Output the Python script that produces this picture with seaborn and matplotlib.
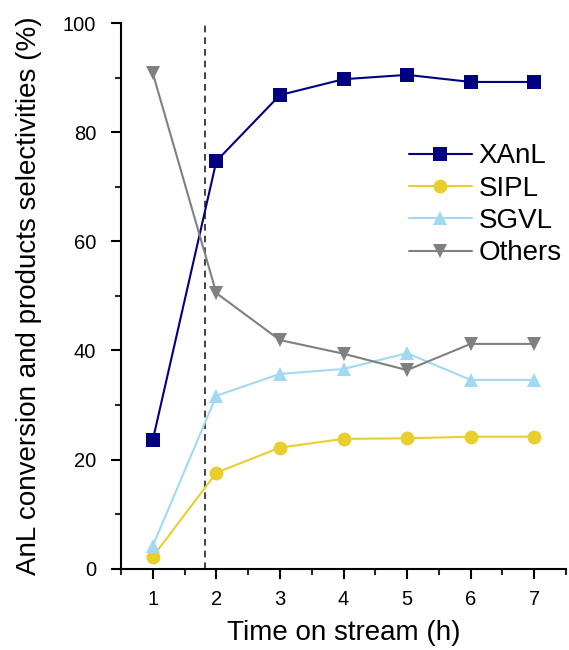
import numpy as np
import pandas as pd
import matplotlib
matplotlib.use("Agg")
import matplotlib.pyplot as plt
from matplotlib.ticker import MultipleLocator
import seaborn as sns

# Time on stream (h)
time_h = [1, 2, 3, 4, 5, 6, 7]

# Conversion and selectivities (%)
xanl = [23.6, 74.7, 86.8, 89.7, 90.5, 89.2, 89.2]
sipl = [2.2, 17.6, 22.2, 23.8, 23.9, 24.2, 24.2]
sgvl = [4.2, 31.7, 35.7, 36.6, 39.5, 34.6, 34.6]
others = [90.8, 50.5, 41.9, 39.4, 36.4, 41.2, 41.2]

series_names = ["XAnL", "SIPL", "SGVL", "Others"]
series_values = [xanl, sipl, sgvl, others]
series_colors = ["#000080", "#E8CF2E", "#A2D9F2", "#808080"]
series_markers = ["s", "o", "^", "v"]

sns.set_theme(style="ticks")
plt.rcParams["font.family"] = ["Liberation Sans", "DejaVu Sans"]
plt.rcParams["text.color"] = "black"
plt.rcParams["axes.labelcolor"] = "black"

df = pd.DataFrame({
    "time": time_h * len(series_names),
    "value": [v for vals in series_values for v in vals],
    "series": [n for n in series_names for _ in time_h],
})

fig = plt.figure(figsize=(5.69, 6.5), dpi=100)
ax = fig.add_axes([0.2127, 0.125, 0.782, 0.8396])

for name, color, marker in zip(series_names, series_colors, series_markers):
    sub = df[df["series"] == name]
    sns.lineplot(data=sub, x="time", y="value", ax=ax, color=color,
                 marker=marker, markersize=10, markeredgewidth=0,
                 linewidth=1.5, label=name)

ax.axvline(1.82, color="#222222", linestyle=(0, (4, 3)), linewidth=1.2, zorder=0)

ax.set_xlim(0.5, 7.5)
ax.set_ylim(0, 100)
ax.xaxis.set_major_locator(MultipleLocator(1))
ax.xaxis.set_minor_locator(MultipleLocator(0.5))
ax.yaxis.set_major_locator(MultipleLocator(20))
ax.yaxis.set_minor_locator(MultipleLocator(10))
ax.tick_params(which="major", direction="out", length=7, width=1.5,
               labelsize=14.5, colors="black")
ax.tick_params(axis="y", which="major", pad=11)
ax.tick_params(axis="x", which="major", pad=8)
ax.tick_params(which="minor", direction="out", length=4, width=1.5)

for side in ["top", "right"]:
    ax.spines[side].set_visible(False)
for side in ["left", "bottom"]:
    ax.spines[side].set_linewidth(1.5)
    ax.spines[side].set_color("black")

ax.set_xlabel("Time on stream (h)", fontsize=20, labelpad=8)
ax.set_ylabel("AnL conversion and products selectivities (%)", fontsize=20, labelpad=15)

ax.legend(loc="upper left", bbox_to_anchor=(0.6225, 0.80), frameon=False,
          fontsize=20, handlelength=2.25, handletextpad=0.25, labelspacing=0.23,
          borderaxespad=0)

fig.savefig("out.png", dpi=100)
